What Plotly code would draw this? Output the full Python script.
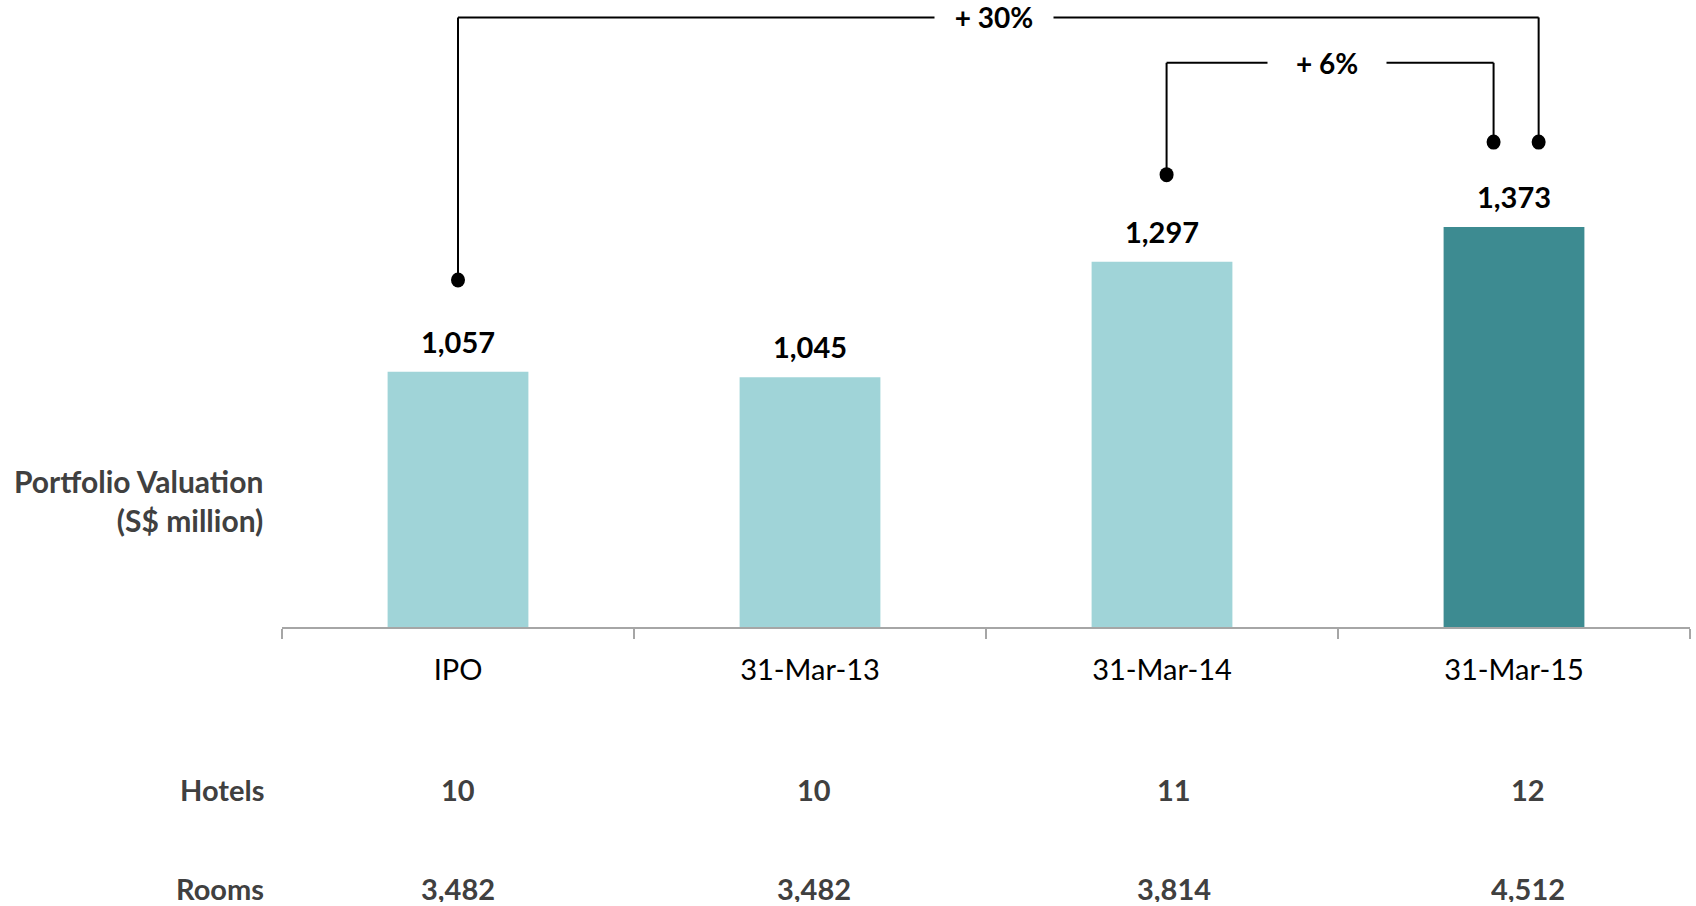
import plotly.graph_objects as go

# ---------------- data ----------------
categories = ["IPO", "31-Mar-13", "31-Mar-14", "31-Mar-15"]
valuation = [1057, 1045, 1297, 1373]          # S$ million
hotels = [10, 10, 11, 12]
rooms = [3482, 3482, 3814, 4512]
growth_labels = ["+ 30%", "+ 6%"]
growth_from = [0, 2]                            # category index of start
growth_to = [3, 3]                              # category index of end

# ---------------- style ----------------
FONT = "Lato"
LIGHT = "#A0D4D8"
DARK = "#3D8B91"
GREY_TXT = "#404040"
AXIS_GREY = "#A6A6A6"
bar_colors = [LIGHT, LIGHT, LIGHT, DARK]
Y_MIN, Y_MAX = 500, 1868
dot_offsets = [200, 200, 190, 185]   # data units above bar top, per category
bracket_levels = [1830, 1731]    # data units
bracket_dx_start = [0.0, 0.013]  # horizontal nudges (category units)
bracket_dx_end = [0.07, -0.058]
bracket_label_xshift = [-4, -3]  # px
table_xshift = [0, 4, 12, 14]    # px

fig = go.Figure()
fig.add_trace(go.Bar(
    x=categories, y=valuation, width=0.4,
    marker=dict(color=bar_colors, line=dict(width=0)),
    hoverinfo="skip",
))

ann = []
shapes = []

# value labels
for i, v in enumerate(valuation):
    ann.append(dict(x=i, y=v, xref="x", yref="y", text=f"<b>{v:,}</b>",
                    showarrow=False, yanchor="bottom", yshift=11,
                    font=dict(family=FONT, size=29, color="black")))

# growth brackets
for k, lab in enumerate(growth_labels):
    a, b = growth_from[k], growth_to[k]
    xa = a + bracket_dx_start[k]
    xb = b + bracket_dx_end[k]
    lvl = bracket_levels[k]
    ya = valuation[a] + dot_offsets[a]
    yb = valuation[b] + dot_offsets[b]
    line = dict(color="black", width=2)
    shapes += [
        dict(type="line", xref="x", yref="y", x0=xa, x1=xa, y0=ya, y1=lvl, line=line),
        dict(type="line", xref="x", yref="y", x0=xa, x1=xb, y0=lvl, y1=lvl, line=line),
        dict(type="line", xref="x", yref="y", x0=xb, x1=xb, y0=lvl, y1=yb, line=line),
    ]
    for (xx, yy) in [(xa, ya), (xb, yb)]:
        shapes.append(dict(type="circle", xref="x", yref="y",
                           xsizemode="pixel", ysizemode="pixel",
                           xanchor=xx, yanchor=yy, x0=-7, x1=7, y0=-7.5, y1=7.5,
                           fillcolor="black", line=dict(width=0)))
    ann.append(dict(x=(xa + xb) / 2, y=lvl, xref="x", yref="y",
                    xshift=bracket_label_xshift[k],
                    text=f"<b>{lab}</b>", showarrow=False,
                    xanchor="center", yanchor="middle",
                    width=118, height=30, bgcolor="white", borderpad=0,
                    font=dict(family=FONT, size=28, color="black")))

# left labels
ann.append(dict(x=-0.0139, y=0.202, xref="paper", yref="paper", xshift=3,
                text="<b>Portfolio Valuation</b><br><b>(S$ million)</b>",
                showarrow=False, xanchor="right", yanchor="middle", align="right",
                font=dict(family=FONT, size=30, color=GREY_TXT)))
row_y = [-0.258, -0.417]
for lab, ry, vals in [("Hotels", row_y[0], hotels), ("Rooms", row_y[1], rooms)]:
    ann.append(dict(x=-0.0139, y=ry, xref="paper", yref="paper", xshift=3,
                    text=f"<b>{lab}</b>", showarrow=False,
                    xanchor="right", yanchor="middle", height=28, borderpad=0,
                    font=dict(family=FONT, size=29, color=GREY_TXT)))
    for i, v in enumerate(vals):
        ann.append(dict(x=i, y=ry, xref="x", yref="paper", xshift=table_xshift[i],
                        text=f"<b>{v:,}</b>", showarrow=False,
                        xanchor="center", yanchor="middle", height=28, borderpad=0,
                        font=dict(family=FONT, size=29, color=GREY_TXT)))

fig.update_layout(
    width=1696, height=906,
    margin=dict(l=282, r=6, t=0, b=279),
    paper_bgcolor="white", plot_bgcolor="white",
    showlegend=False,
    bargap=0.6,
    xaxis=dict(type="category", range=[-0.5, 3.5], tickson="boundaries",
               showline=True, linecolor=AXIS_GREY, linewidth=2,
               ticks="outside", ticklen=10, tickwidth=2, tickcolor=AXIS_GREY,
               ticklabelstandoff=16,
               tickfont=dict(family=FONT, size=29, color="black"),
               showgrid=False, zeroline=False, fixedrange=True),
    yaxis=dict(range=[Y_MIN, Y_MAX], visible=False, showgrid=False,
               zeroline=False, fixedrange=True),
    annotations=ann,
    shapes=shapes,
)

fig.write_html("out.html")
